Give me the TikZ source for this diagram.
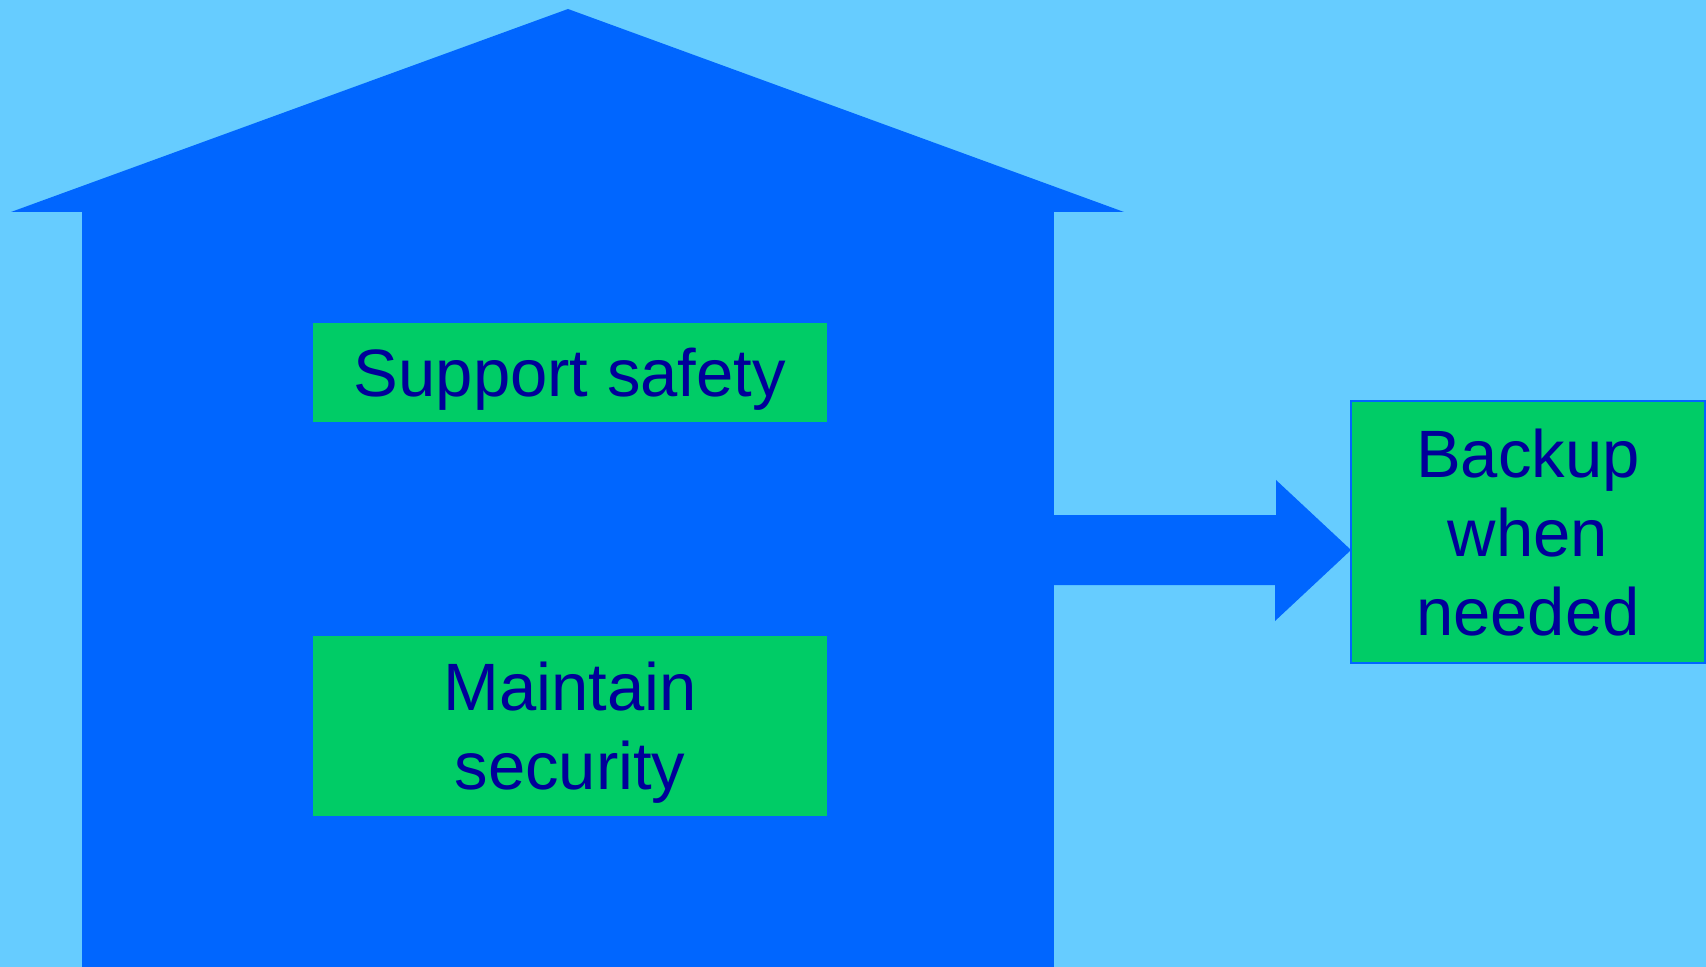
\documentclass[tikz,border=0pt]{standalone}
\usepackage{fontspec}
\setmainfont{Liberation Sans}

\definecolor{sky}{HTML}{66CCFF}
\definecolor{house}{HTML}{0066FF}
\definecolor{leaf}{HTML}{00CC66}
\definecolor{ink}{HTML}{000099}

\begin{document}
\begin{tikzpicture}[x=0.5pt,y=-0.5pt]

      \useasboundingbox[fill=sky] (0,0) rectangle (1706,967);

      % roof and walls
      \fill[house] (11,212) -- (568,9) -- (1124,212) -- cycle;
      \node[fill=house,inner sep=0pt,outer sep=0pt,
            minimum width=486pt,minimum height=378pt] (body) at (568,590) {};

      \begin{scope}[every node/.style={fill=leaf,text=ink,align=center,
          inner sep=0pt,outer sep=0pt,minimum width=257pt,text depth=0pt,
          font=\fontsize{33.5}{39.5}\selectfont}]
        \node[minimum height=49.5pt] (safety)   at (570,372.5) {Support safety};
        \node[minimum height=90pt]   (security) at (570,726)   {Maintain\\security};
        \node[draw=house,line width=0.6pt,minimum width=177pt,
              minimum height=131pt]  (backup)   at (1528,532)  {Backup\\when\\needed};
      \end{scope}

      \coordinate (tip) at ([yshift=-9pt]backup.west);
      \fill[house] (body.east |- tip) ++(0,-35) -- ++(222,0) -- ++(0,-35)
        -- (tip) -- ++(-76,71) -- ++(0,-36) -- ++(-222,0) -- cycle;

    \end{tikzpicture}
\end{document}
